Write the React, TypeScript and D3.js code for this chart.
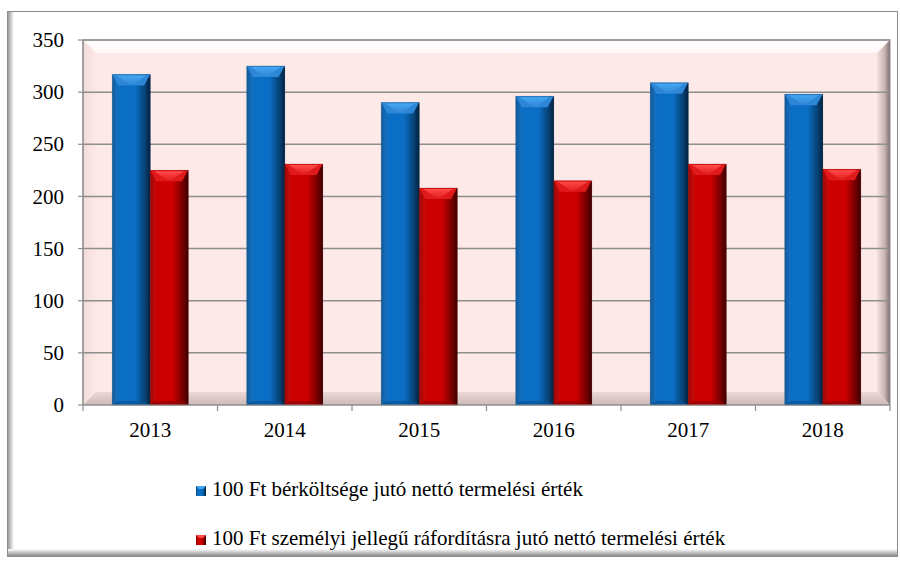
import React from "react";
import * as d3 from "d3";

const years = ["2013", "2014", "2015", "2016", "2017", "2018"];
const seriesNames = [
  "100 Ft bérköltsége jutó nettó termelési érték",
  "100 Ft személyi jellegű ráfordításra jutó nettó termelési érték",
];
const wageValues = [317, 325, 290, 296, 309, 298];
const personalValues = [225, 231, 208, 215, 231, 226];
const yTicks = [0, 50, 100, 150, 200, 250, 300, 350];

const W = 900;
const H = 562;
const left = 83;
const right = 890;
const top = 40;
const bottom = 405;

const palettes = [
  { id: "b", base: "#0a6fc4", light: "#45a6f2", lightEdge: "#2e86d6", dark: "#04203c", darkMid: "#07487f", bottom: "#0a5294" },
  { id: "r", base: "#cc0000", light: "#ff4a4a", lightEdge: "#e01a1a", dark: "#3a0000", darkMid: "#7e0000", bottom: "#960000" },
];

const FONT = "Liberation Serif";

export default function App() {
  const x = d3.scaleBand<string>().domain(years).range([left, right]).paddingInner(0.435).paddingOuter(0.2175);
  const xi = d3.scaleBand<number>().domain([0, 1]).range([0, x.bandwidth()]);
  const y = d3.scaleLinear().domain([0, 350]).range([bottom, top]);
  const step = (right - left) / years.length;
  const data = [wageValues, personalValues];
  const bv = 13;
  const ts = { fontFamily: FONT, fontSize: "21px" };

  const bar = (val: number, yr: string, s: number) => {
    const p = palettes[s];
    const bx = (x(yr) as number) + (xi(s) as number);
    const bw = xi.bandwidth();
    const by = y(val);
    const bh = bottom - by;
    const tb = 11;
    const sb = 6;
    const cx = bx + bw / 2;
    return (
      <g key={yr + s}>
        <rect x={bx} y={by} width={bw} height={bh} fill={`url(#body-${p.id})`} />
        <polygon points={`${bx},${by} ${bx + bw},${by} ${bx + bw - sb},${by + tb} ${bx + sb},${by + tb}`} fill={p.lightEdge} />
        <polygon points={`${bx + 4},${by + 1} ${bx + bw - 4},${by + 1} ${cx},${by + tb}`} fill={`url(#top-${p.id})`} />
        <polygon points={`${bx + bw},${by} ${bx + bw},${bottom} ${bx + bw - sb},${bottom - 4} ${bx + bw - sb},${by + tb}`} fill={`url(#right-${p.id})`} />
        <polygon points={`${bx},${by} ${bx + sb},${by + tb} ${bx + sb},${bottom - 4} ${bx},${bottom}`} fill={p.lightEdge} opacity={0.3} />
        <polygon points={`${bx},${bottom} ${bx + sb},${bottom - 4} ${bx + bw - sb},${bottom - 4} ${bx + bw},${bottom}`} fill={p.bottom} opacity={0.7} />
        <rect x={bx} y={by} width={bw} height={bh} fill="none" stroke={p.darkMid} strokeOpacity={0.35} strokeWidth={0.8} />
      </g>
    );
  };

  return (
    <svg width={W} height={H} style={{ position: "absolute", left: 0, top: 0, background: "#fff" }}>
      <defs>
        {palettes.map((p) => (
          <React.Fragment key={p.id}>
            <linearGradient id={`body-${p.id}`} x1="0" x2="1" y1="0" y2="0">
              <stop offset="0" stopColor={p.darkMid} />
              <stop offset="0.18" stopColor={p.base} />
              <stop offset="0.6" stopColor={p.base} />
              <stop offset="0.82" stopColor={p.darkMid} />
              <stop offset="1" stopColor={p.dark} />
            </linearGradient>
            <linearGradient id={`top-${p.id}`} x1="0" x2="0" y1="0" y2="1">
              <stop offset="0" stopColor={p.light} />
              <stop offset="1" stopColor={p.lightEdge} />
            </linearGradient>
            <linearGradient id={`right-${p.id}`} x1="0" x2="1" y1="0" y2="0">
              <stop offset="0" stopColor={p.darkMid} />
              <stop offset="1" stopColor={p.dark} />
            </linearGradient>
          </React.Fragment>
        ))}
        <linearGradient id="bvTop" x1="0" x2="0" y1="0" y2="1">
          <stop offset="0" stopColor="#ffffff" />
          <stop offset="1" stopColor="#fff7f6" />
        </linearGradient>
        <linearGradient id="bvRight" x1="0" x2="1" y1="0" y2="0">
          <stop offset="0" stopColor="#f6e0de" />
          <stop offset="0.6" stopColor="#c7b3b2" />
          <stop offset="1" stopColor="#7a6e6e" />
        </linearGradient>
        <linearGradient id="bvBottom" x1="0" x2="0" y1="0" y2="1">
          <stop offset="0" stopColor="#ecd7d5" />
          <stop offset="1" stopColor="#cdbab9" />
        </linearGradient>
        <linearGradient id="bvLeft" x1="0" x2="1" y1="0" y2="0">
          <stop offset="0" stopColor="#f3dcda" />
          <stop offset="1" stopColor="#fce8e6" />
        </linearGradient>
        <linearGradient id="frameShadowL" x1="0" x2="1" y1="0" y2="0">
          <stop offset="0" stopColor="#9a9a9a" />
          <stop offset="1" stopColor="#ffffff" />
        </linearGradient>
        <linearGradient id="frameShadowB" x1="0" x2="0" y1="0" y2="1">
          <stop offset="0" stopColor="#ffffff" />
          <stop offset="1" stopColor="#8a8a8a" />
        </linearGradient>
      </defs>

      {/* outer frame */}
      <rect x={8} y={12} width={6} height={544} fill="url(#frameShadowL)" />
      <rect x={8} y={549} width={889} height={7} fill="url(#frameShadowB)" />
      <rect x={7.5} y={11.5} width={890} height={545} fill="none" stroke="#8c8c8c" strokeWidth={1} />

      {/* plot area */}
      <rect x={left} y={top} width={right - left} height={bottom - top} fill="#fde9e7" />
      <polygon points={`${left},${top} ${right},${top} ${right - bv},${top + bv} ${left + bv},${top + bv}`} fill="url(#bvTop)" />
      <polygon points={`${left},${top} ${left + bv},${top + bv} ${left + bv},${bottom - bv} ${left},${bottom}`} fill="url(#bvLeft)" />
      <polygon points={`${right},${top} ${right},${bottom} ${right - bv},${bottom - bv} ${right - bv},${top + bv}`} fill="url(#bvRight)" />
      <polygon points={`${left},${bottom} ${left + bv},${bottom - bv} ${right - bv},${bottom - bv} ${right},${bottom}`} fill="url(#bvBottom)" />
      <rect x={left} y={top} width={right - left} height={bottom - top} fill="none" stroke="#8f8f8f" strokeWidth={1} />

      {/* gridlines */}
      {yTicks.filter((t) => t > 0).map((t) => (
        <line key={t} x1={left} x2={right} y1={y(t)} y2={y(t)} stroke="#8e8e8e" strokeWidth={1.5} />
      ))}

      {/* bars */}
      {years.map((yr, i) => data.map((vals, s) => bar(vals[i], yr, s)))}

      {/* axes */}
      <line x1={left} x2={left} y1={top} y2={bottom} stroke="#8e8e8e" strokeWidth={1.2} />
      <line x1={left} x2={right} y1={bottom} y2={bottom} stroke="#8e8e8e" strokeWidth={1.2} />
      {yTicks.map((t) => (
        <g key={t}>
          <line x1={left - 5} x2={left} y1={y(t)} y2={y(t)} stroke="#8e8e8e" strokeWidth={1.2} />
          <text x={64} y={y(t)} dy="0.34em" textAnchor="end" style={ts} fill="#000">{t}</text>
        </g>
      ))}
      {d3.range(years.length + 1).map((i) => (
        <line key={i} x1={left + i * step} x2={left + i * step} y1={bottom} y2={bottom + 6} stroke="#8e8e8e" strokeWidth={1.2} />
      ))}
      {years.map((yr) => (
        <text key={yr} x={(x(yr) as number) + x.bandwidth() / 2} y={437} textAnchor="middle" style={ts} fill="#000">{yr}</text>
      ))}

      {/* legend */}
      {seriesNames.map((name, s) => {
        const ly = 496 + s * 49;
        const p = palettes[s];
        return (
          <g key={name}>
            <rect x={196} y={ly - 10} width={10} height={10} fill={`url(#body-${p.id})`} />
            <polygon points={`${196},${ly - 10} ${206},${ly - 10} ${203},${ly - 7} ${199},${ly - 7}`} fill={p.light} />
            <text x={212} y={ly} style={ts} fill="#000">{name}</text>
          </g>
        );
      })}
    </svg>
  );
}
